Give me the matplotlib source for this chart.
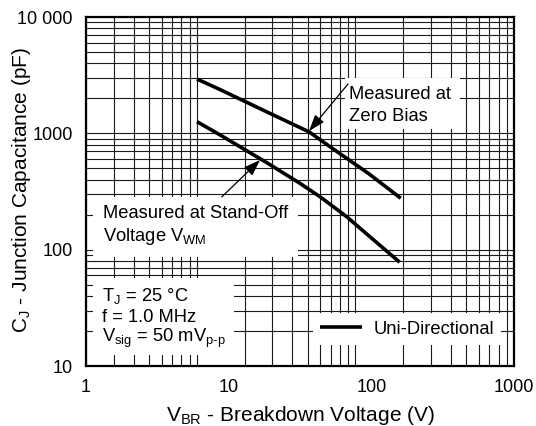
import numpy as np
import matplotlib
matplotlib.use('Agg')
import matplotlib.pyplot as plt
from matplotlib.patches import Rectangle
from matplotlib.ticker import LogLocator, NullLocator, NullFormatter

plt.rcParams['font.family'] = ['Liberation Sans', 'DejaVu Sans']
plt.rcParams['mathtext.fontset'] = 'custom'
plt.rcParams['mathtext.rm'] = 'Liberation Sans'

# curve (V_BR in V, C_J in pF)
zero_bias_v = [6.0, 8.7, 18.5, 36.6, 55.3, 94.8, 160.7]
zero_bias_c = [2930, 2380, 1530, 1030, 720, 455, 277]

standoff_v = [6.0, 8.7, 18.5, 31.6, 43.7, 67.2, 97.9, 158]
standoff_c = [1260, 970, 560, 372, 285, 192, 129, 78]

x_ticks = [1, 10, 100, 1000]
x_labels = ['1', '10', '100', '1000']
y_ticks = [10, 100, 1000, 10000]
y_labels = ['10', '100', '1000', '10 000']

fig = plt.figure(figsize=(5.36, 4.26), dpi=100)
ax = fig.add_axes([0.1604, 0.1408, 0.7986, 0.8192])

# the printed grid runs 2..1000 on x, not the same as the tick labels
ax2 = ax.twiny()
ax2.set_xscale('log')
ax2.set_xlim(2, 1000)
ax2.xaxis.set_major_locator(LogLocator(base=10))
ax2.xaxis.set_minor_locator(LogLocator(base=10, subs=np.arange(2, 10)))
ax2.xaxis.set_minor_formatter(NullFormatter())
ax2.grid(True, which='both', axis='x', color='#1a1a1a', lw=0.8)
ax2.tick_params(which='both', top=False, labeltop=False, length=0)
for s in ax2.spines.values():
    s.set_visible(False)
ax.set_zorder(ax2.get_zorder() + 1)
ax.patch.set_visible(False)

ax.set_xscale('log')
ax.set_yscale('log')
ax.set_xlim(1, 1000)
ax.set_ylim(10, 10000)
ax.set_xticks(x_ticks)
ax.set_xticklabels(x_labels)
ax.set_yticks(y_ticks)
ax.set_yticklabels(y_labels)
ax.xaxis.set_minor_locator(NullLocator())
ax.yaxis.set_minor_locator(LogLocator(base=10, subs=np.arange(2, 10)))
ax.yaxis.set_minor_formatter(NullFormatter())
ax.set_axisbelow(True)
ax.grid(True, which='both', axis='y', color='#1a1a1a', lw=0.8)
ax.tick_params(which='both', length=0, labelsize=13)
ax.tick_params(axis='y', pad=9.5)
ax.tick_params(axis='x', pad=9)
for s in ax.spines.values():
    s.set_linewidth(1.6)

ax.plot(zero_bias_v, zero_bias_c, color='k', lw=2.6, zorder=4,
        solid_capstyle='butt', label='Uni-Directional')
ax.plot(standoff_v, standoff_c, color='k', lw=2.6, zorder=4, solid_capstyle='butt')

# white boxes behind the notes
def mask(x0, y0, x1, y1):
    ax.add_patch(Rectangle((x0, y0), x1 - x0, y1 - y0, transform=ax.transAxes,
                           facecolor='white', edgecolor='none', zorder=3))

mask(0.605, 0.679, 0.874, 0.825)
mask(0.016, 0.312, 0.495, 0.484)
mask(0.016, 0.032, 0.346, 0.252)

fs = 13.2
ax.text(0.614, 0.777, 'Measured at', transform=ax.transAxes, fontsize=fs,
        va='center', zorder=5)
ax.text(0.614, 0.714, 'Zero Bias', transform=ax.transAxes, fontsize=fs,
        va='center', zorder=5)
ax.text(0.040, 0.437, 'Measured at Stand-Off', transform=ax.transAxes, fontsize=fs,
        va='center', zorder=5)
ax.text(0.040, 0.372, r'Voltage V$_\mathregular{WM}$', transform=ax.transAxes,
        fontsize=fs, va='center', zorder=5)
ax.text(0.037, 0.200, r'T$_\mathregular{J}$ = 25 °C', transform=ax.transAxes,
        fontsize=fs, va='center', zorder=5)
ax.text(0.037, 0.138, 'f = 1.0 MHz', transform=ax.transAxes, fontsize=fs,
        va='center', zorder=5)
ax.text(0.037, 0.078, r'V$_\mathregular{sig}$ = 50 mV$_\mathregular{p\text{-}p}$',
        transform=ax.transAxes, fontsize=fs, va='center', zorder=5)

arrow = dict(arrowstyle='-|>,head_length=1.0,head_width=0.35', color='k', lw=0.9,
             mutation_scale=10, shrinkA=0, shrinkB=0)
ax.annotate('', xy=(36.6, 1047), xytext=(68.6, 2655), arrowprops=arrow, zorder=5)
ax.annotate('', xy=(16.6, 590), xytext=(8.94, 284), arrowprops=arrow, zorder=5)

leg = ax.legend(loc='lower right', bbox_to_anchor=(0.970, 0.060), fontsize=fs,
                handlelength=2.3, handletextpad=0.6, borderpad=0.4,
                borderaxespad=0, fancybox=False, framealpha=1, edgecolor='none')
leg.set_zorder(6)

ax.set_ylabel(r'C$_\mathregular{J}$ - Junction Capacitance (pF)', fontsize=15)
ax.yaxis.set_label_coords(-0.123, 0.504)
ax.set_xlabel(r'V$_\mathregular{BR}$ - Breakdown Voltage (V)', fontsize=15,
              labelpad=6)

fig.savefig('out.png', dpi=100)
